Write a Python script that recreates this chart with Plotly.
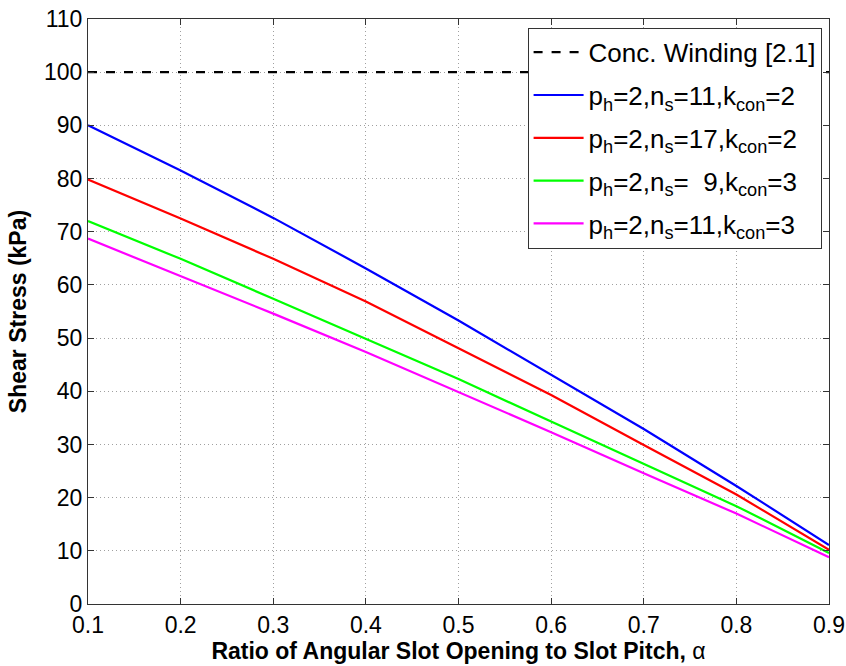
import plotly.graph_objects as go

alpha = [0.1, 0.2, 0.3, 0.4, 0.5, 0.6, 0.7, 0.8, 0.9]
conc = [100, 100, 100, 100, 100, 100, 100, 100, 100]
s_11_2 = [90.0, 81.5, 72.6, 63.1, 53.3, 43.1, 32.9, 22.2, 11.1]
s_17_2 = [79.8, 72.5, 64.9, 56.9, 48.1, 39.3, 29.9, 20.6, 10.2]
s_9_3 = [72.0, 64.9, 57.4, 49.8, 42.3, 34.3, 26.3, 18.4, 9.6]
s_11_3 = [68.7, 61.7, 54.6, 47.4, 39.9, 32.3, 24.6, 17.0, 8.8]

names = [
    "Conc. Winding [2.1]",
    "p<sub>h</sub>=2,n<sub>s</sub>=11,k<sub>con</sub>=2",
    "p<sub>h</sub>=2,n<sub>s</sub>=17,k<sub>con</sub>=2",
    "p<sub>h</sub>=2,n<sub>s</sub>=&nbsp;&nbsp;9,k<sub>con</sub>=3",
    "p<sub>h</sub>=2,n<sub>s</sub>=11,k<sub>con</sub>=3",
]
series = [conc, s_11_2, s_17_2, s_9_3, s_11_3]
colors = ["#000000", "#0000ff", "#ff0000", "#00ff00", "#ff00ff"]
dashes = ["dash", "solid", "solid", "solid", "solid"]

fig = go.Figure()
for i, (n, s, c, d) in enumerate(zip(names, series, colors, dashes)):
    fig.add_trace(go.Scatter(x=alpha, y=s, mode="lines", name=n,
                             legendgroup=f"g{i}",
                             line=dict(color=c, width=2.2, dash=d)))

font = "Liberation Sans, Arial, sans-serif"
axis_common = dict(
    showline=True, linecolor="#333333", linewidth=1, mirror="allticks",
    ticks="inside", ticklen=6, tickcolor="#333333",
    showgrid=True, gridcolor="#a0a0a0", griddash="1px,3px", gridwidth=1,
    zeroline=False, tickfont=dict(family=font, size=23, color="#000"),
    ticklabeloverflow="allow", automargin=False,
)
fig.update_xaxes(range=[0.1, 0.9], dtick=0.1, tick0=0.1, tickformat=".1f",
                 title=dict(text="<b>Ratio of Angular Slot Opening to Slot Pitch, </b>α",
                            font=dict(family=font, size=23, color="#000"), standoff=2),
                 **axis_common)
fig.update_yaxes(range=[0, 110], dtick=10,
                 title=dict(text="<b>Shear Stress (kPa)</b>",
                            font=dict(family=font, size=23, color="#000"), standoff=10),
                 **axis_common)
fig.update_layout(
    width=846, height=666,
    margin=dict(l=88, r=17, t=19, b=62),
    paper_bgcolor="white", plot_bgcolor="white",
    showlegend=True,
    legend=dict(x=0.99, y=0.985, xanchor="right", yanchor="top",
                bgcolor="white", bordercolor="#333333", borderwidth=1,
                font=dict(family=font, size=26, color="#000"),
                tracegroupgap=6, itemwidth=50),
)
fig.write_html("out.html")
